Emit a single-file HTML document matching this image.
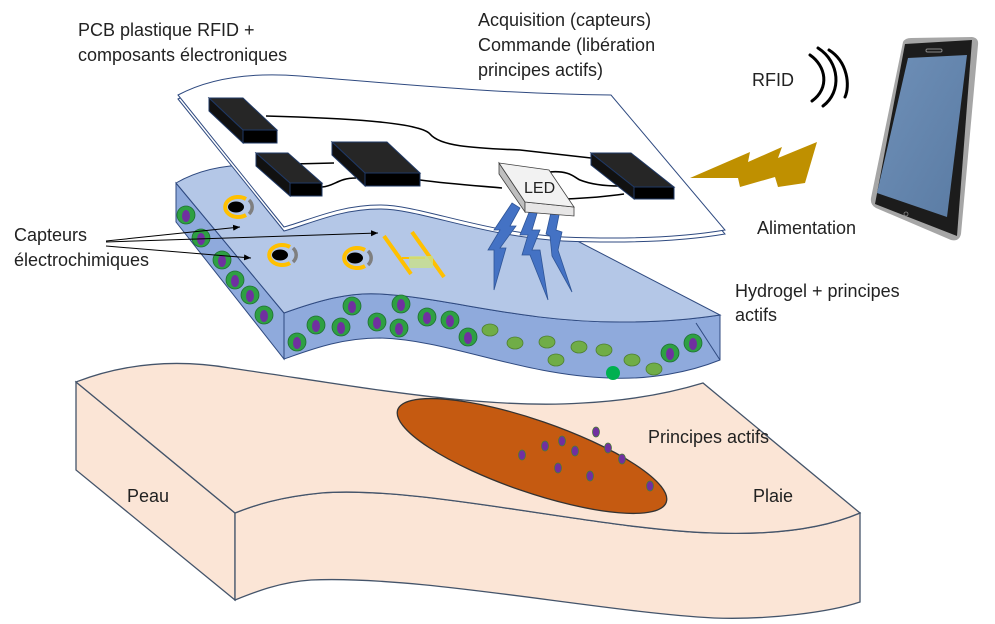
<!DOCTYPE html>
<html><head><meta charset="utf-8"><style>
html,body{margin:0;padding:0;background:#fff;}
svg{display:block;}
text{font-family:"Liberation Sans",sans-serif;fill:#222;}
</style></head><body>
<svg width="995" height="624" viewBox="0 0 995 624" xmlns="http://www.w3.org/2000/svg">
<defs>
<marker id="ar" markerWidth="8" markerHeight="8" refX="7" refY="3" orient="auto"><path d="M0,0 L7,3 L0,6 Z" fill="#000"/></marker>
<linearGradient id="scr" x1="0" y1="0" x2="1" y2="1"><stop offset="0" stop-color="#6f90b8"/><stop offset="1" stop-color="#5a7ba3"/></linearGradient>
</defs>

<!-- Skin -->
<path d="M76,382 L235,513 L235,600 L76,470 Z" fill="#fbe5d6" stroke="#44546a" stroke-width="1.3"/>
<path d="M235,513 C255,505 280,497 321,493 C420,485 600,530 714,533 C770,535 820,530 860,513 L860,602 C830,612 770,620 714,618 C600,612 420,575 311,580 C280,582 255,592 235,600 Z" fill="#fbe5d6" stroke="#44546a" stroke-width="1.3"/>
<path d="M76,382 C120,365 170,358 230,368 C350,385 480,410 583,403 C640,400 680,390 703,383 L860,513 C820,530 770,535 714,533 C600,530 420,485 321,493 C280,497 255,505 235,513 Z" fill="#fbe5d6" stroke="#44546a" stroke-width="1.3"/>
<ellipse cx="532" cy="456" rx="142" ry="36" transform="rotate(19 532 456)" fill="#c55a11" stroke="#333" stroke-width="1.3"/>
<g fill="#7030a0" stroke="#4a7a3a" stroke-width="0.8">
<ellipse cx="522" cy="455" rx="3.5" ry="5"/><ellipse cx="545" cy="446" rx="3.5" ry="5"/><ellipse cx="562" cy="441" rx="3.5" ry="5"/><ellipse cx="575" cy="451" rx="3.5" ry="5"/><ellipse cx="596" cy="432" rx="3.5" ry="5"/><ellipse cx="608" cy="448" rx="3.5" ry="5"/><ellipse cx="622" cy="459" rx="3.5" ry="5"/><ellipse cx="558" cy="468" rx="3.5" ry="5"/><ellipse cx="590" cy="476" rx="3.5" ry="5"/><ellipse cx="650" cy="486" rx="3.5" ry="5"/>
</g>

<!-- Hydrogel -->
<path d="M176,183 L284,313 L284,359 L176,222 Z" fill="#8faadc" stroke="#2f4a80" stroke-width="1"/>
<path d="M284,313 C320,300 350,292 380,294 C450,298 520,322 620,322 C670,322 700,318 720,315 L720,360 C690,372 650,380 609,378 C520,375 450,340 380,338 C340,338 310,350 284,359 Z" fill="#8faadc" stroke="#2f4a80" stroke-width="1"/>
<path d="M176,183 L284,313 C320,300 350,292 380,294 C450,298 520,322 620,322 C670,322 700,318 720,315 L560,232 L250,165 C220,165 195,172 176,183 Z" fill="#b4c7e7" stroke="#2f4a80" stroke-width="1"/>
<line x1="696" y1="323" x2="720" y2="360" stroke="#2f4a80" stroke-width="1"/>

<!-- cells -->
<g>
<g fill="#2ea043" stroke="#1f6f30" stroke-width="0.8">
<circle cx="186" cy="215" r="9"/><circle cx="201" cy="238" r="9"/><circle cx="222" cy="260" r="9"/><circle cx="235" cy="280" r="9"/><circle cx="250" cy="295" r="9"/><circle cx="264" cy="315" r="9"/>
<circle cx="352" cy="306" r="9"/><circle cx="401" cy="304" r="9"/><circle cx="316" cy="325" r="9"/><circle cx="341" cy="327" r="9"/><circle cx="377" cy="322" r="9"/><circle cx="399" cy="328" r="9"/><circle cx="427" cy="317" r="9"/><circle cx="450" cy="320" r="9"/><circle cx="468" cy="337" r="9"/><circle cx="297" cy="342" r="9"/><circle cx="670" cy="353" r="9"/><circle cx="693" cy="343" r="9"/>
</g>
<g fill="#7030a0">
<ellipse cx="186" cy="216" rx="4" ry="6"/><ellipse cx="201" cy="239" rx="4" ry="6"/><ellipse cx="222" cy="261" rx="4" ry="6"/><ellipse cx="235" cy="281" rx="4" ry="6"/><ellipse cx="250" cy="296" rx="4" ry="6"/><ellipse cx="264" cy="316" rx="4" ry="6"/>
<ellipse cx="352" cy="307" rx="4" ry="6"/><ellipse cx="401" cy="305" rx="4" ry="6"/><ellipse cx="316" cy="326" rx="4" ry="6"/><ellipse cx="341" cy="328" rx="4" ry="6"/><ellipse cx="377" cy="323" rx="4" ry="6"/><ellipse cx="399" cy="329" rx="4" ry="6"/><ellipse cx="427" cy="318" rx="4" ry="6"/><ellipse cx="450" cy="321" rx="4" ry="6"/><ellipse cx="468" cy="338" rx="4" ry="6"/><ellipse cx="297" cy="343" rx="4" ry="6"/><ellipse cx="670" cy="354" rx="4" ry="6"/><ellipse cx="693" cy="344" rx="4" ry="6"/>
</g>
<g fill="#70ad47" stroke="#4e7f30" stroke-width="0.8">
<ellipse cx="490" cy="330" rx="8" ry="6"/><ellipse cx="515" cy="343" rx="8" ry="6"/><ellipse cx="547" cy="342" rx="8" ry="6"/><ellipse cx="556" cy="360" rx="8" ry="6"/><ellipse cx="579" cy="347" rx="8" ry="6"/><ellipse cx="604" cy="350" rx="8" ry="6"/><ellipse cx="632" cy="360" rx="8" ry="6"/><ellipse cx="654" cy="369" rx="8" ry="6"/>
</g>
<circle cx="613" cy="373" r="7" fill="#00b050"/>
</g>

<!-- sensors -->
<g>
<g transform="translate(236,207)"><path d="M10,-8 A13,10 0 1 0 10,8" fill="none" stroke="#ffc000" stroke-width="4"/><ellipse cx="0" cy="0" rx="8" ry="5.5" fill="#000"/><path d="M13,-7 A14,11 0 0 1 13,7" fill="none" stroke="#7f7f7f" stroke-width="3.5"/></g>
<g transform="translate(280,255)"><path d="M10,-8 A13,10 0 1 0 10,8" fill="none" stroke="#ffc000" stroke-width="4"/><ellipse cx="0" cy="0" rx="8" ry="5.5" fill="#000"/><path d="M13,-7 A14,11 0 0 1 13,7" fill="none" stroke="#7f7f7f" stroke-width="3.5"/></g>
<g transform="translate(355,258)"><path d="M10,-8 A13,10 0 1 0 10,8" fill="none" stroke="#ffc000" stroke-width="4"/><ellipse cx="0" cy="0" rx="8" ry="5.5" fill="#000"/><path d="M13,-7 A14,11 0 0 1 13,7" fill="none" stroke="#7f7f7f" stroke-width="3.5"/></g>
<line x1="384" y1="236" x2="411" y2="274" stroke="#ffc000" stroke-width="4"/>
<line x1="412" y1="232" x2="444" y2="277" stroke="#ffc000" stroke-width="4"/>
<line x1="402" y1="258" x2="425" y2="258" stroke="#ffc000" stroke-width="2"/>
<rect x="409" y="256" width="24" height="12" fill="#c9e08a" opacity="0.8"/>
</g>

<!-- PCB -->
<path d="M178,99 C210,82 250,76 300,80 C400,88 500,98 611,99 L725,234 C690,240 640,244 563,241 C480,236 420,209 380,209 C340,209 310,224 284,231 Z" fill="#fff" stroke="#2f4a80" stroke-width="1"/>
<path d="M178,95 C210,78 250,72 300,76 C400,84 500,94 611,95 L725,230 C690,236 640,240 563,237 C480,232 420,205 380,205 C340,205 310,220 284,227 Z" fill="#fff" stroke="#2f4a80" stroke-width="1"/>

<!-- wires -->
<g fill="none" stroke="#000" stroke-width="1.6">
<path d="M266,116 C340,118 420,122 430,134 C440,146 470,148 520,150 L591,158"/>
<path d="M293,164 L334,163"/>
<path d="M322,187 C335,186 338,178 356,178"/>
<path d="M420,180 C450,184 480,186 502,188"/>
<path d="M549,172 C570,170 575,178 580,180 C590,184 605,186 620,186"/>
<path d="M566,199 C590,198 610,196 624,194"/>
</g>

<!-- chips -->
<g fill="#262626" stroke="#1f3864" stroke-width="1">
<path d="M209,98 L243,98 L277,130 L243,130 Z"/><path d="M209,98 L243,130 L243,143 L209,111 Z" fill="#111"/><rect x="243" y="130" width="34" height="13" fill="#000"/>
<path d="M256,153 L288,153 L322,183 L290,183 Z"/><path d="M256,153 L290,183 L290,196 L256,166 Z" fill="#111"/><rect x="290" y="183" width="32" height="13" fill="#000"/>
<path d="M332,142 L387,142 L420,173 L365,173 Z"/><path d="M332,142 L365,173 L365,186 L332,155 Z" fill="#111"/><rect x="365" y="173" width="55" height="13" fill="#000"/>
<path d="M591,153 L631,153 L674,187 L634,187 Z"/><path d="M591,153 L634,187 L634,199 L591,165 Z" fill="#111"/><rect x="634" y="187" width="40" height="12" fill="#000"/>
</g>

<!-- lightning blue -->
<g fill="#4472c4" stroke="#2f5597" stroke-width="0.8">
<path d="M512,203 L520,208 L510,226 L516,226 L500,248 L506,248 L494,290 L494,250 L488,250 L500,230 L494,230 Z"/>
<path d="M530,210 L538,210 L532,230 L540,230 L532,250 L540,250 L548,300 L530,255 L522,255 L528,235 L520,235 Z"/>
<path d="M552,208 L560,210 L556,230 L562,232 L558,250 L572,292 L552,256 L550,236 L546,234 Z"/>
</g>
<!-- LED -->
<path d="M499,163 L525,202 L525,212 L499,174 Z" fill="#bfbfbf" stroke="#404040" stroke-width="0.8"/>
<path d="M525,202 L574,207 L574,216 L525,212 Z" fill="#e7e6e6" stroke="#404040" stroke-width="0.8"/>
<path d="M499,163 L549,170 L574,207 L525,202 Z" fill="#f2f2f2" stroke="#404040" stroke-width="0.8"/>
<text x="524" y="193" font-size="16" fill="#111">LED</text>

<!-- RFID waves and bolt -->
<g fill="none" stroke="#000" stroke-width="3" stroke-linecap="round">
<path d="M810,55 C826,66 830,88 812,101"/>
<path d="M818,48 C840,62 842,92 823,106"/>
<path d="M829,50 C848,62 850,86 845,97"/>
</g>
<path d="M690,178 L750,152 L748,162 L782,147 L778,158 L817,142 L805,183 L778,187 L775,177 L740,187 L738,178 Z" fill="#bf9000"/>

<!-- phone -->
<path d="M903,42 Q905,38 911,38 L972,37 Q979,38 978,45 L961,234 Q959,242 951,240 L876,208 Q870,205 871,198 Z" fill="#a6a6a6"/>
<path d="M905,44 L972,40 L957,236 L875,204 Z" fill="#1c1c1c"/>
<path d="M908,58 L967,55 L947,217 L877,193 Z" fill="url(#scr)"/>
<rect x="926" y="49" width="16" height="3" rx="1.5" fill="none" stroke="#888" stroke-width="1"/>
<circle cx="906" cy="214" r="2" fill="none" stroke="#888" stroke-width="0.8"/>

<!-- arrows -->
<g stroke="#000" stroke-width="1" fill="none" marker-end="url(#ar)">
<line x1="106" y1="241" x2="240" y2="227"/>
<line x1="106" y1="242" x2="378" y2="233"/>
<line x1="106" y1="246" x2="251" y2="258"/>
</g>

<!-- labels -->
<g font-size="18">
<text x="78" y="36">PCB plastique RFID +</text>
<text x="78" y="61">composants électroniques</text>
<text x="478" y="26">Acquisition (capteurs)</text>
<text x="478" y="51">Commande (libération</text>
<text x="478" y="76">principes actifs)</text>
<text x="752" y="86">RFID</text>
<text x="757" y="234">Alimentation</text>
<text x="14" y="241">Capteurs</text>
<text x="14" y="266">électrochimiques</text>
<text x="735" y="297">Hydrogel + principes</text>
<text x="735" y="321">actifs</text>
<text x="648" y="443">Principes actifs</text>
<text x="127" y="502">Peau</text>
<text x="753" y="502">Plaie</text>
</g>
</svg>
</body></html>
